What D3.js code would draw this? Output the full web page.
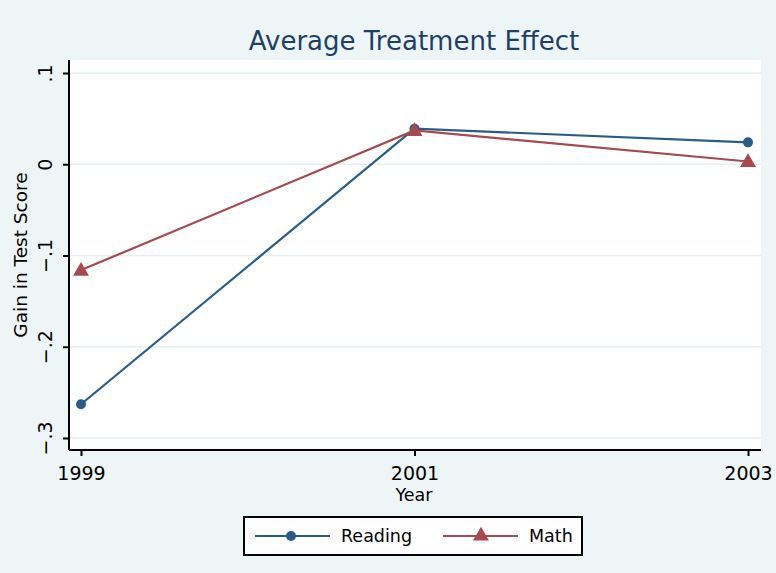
<!DOCTYPE html>
<html>
<head>
<meta charset="utf-8">
<script src="https://cdn.jsdelivr.net/npm/d3@7"></script>
<style>
  body { margin: 0; background: #eef5f7; }
  svg { display: block; font-family: "DejaVu Sans", sans-serif; }
</style>
</head>
<body>
<svg width="776" height="573"></svg>
<script>
var years = [1999, 2001, 2003];
var reading = [-0.263, 0.039, 0.024];
var math = [-0.116, 0.037, 0.003];
var yTicks = [-0.3, -0.2, -0.1, 0, 0.1];
var seriesNames = ["Reading", "Math"];

var svg = d3.select("svg"),
    margin = { top: 60, right: 15, bottom: 123, left: 69 },
    width = +svg.attr("width") - margin.left - margin.right,
    height = +svg.attr("height") - margin.top - margin.bottom;

var blue = "#285d89", red = "#a64a50";
var font = '"DejaVu Sans", sans-serif';

svg.append("rect").attr("width", 776).attr("height", 573).attr("fill", "#eef5f7");

var g = svg.append("g")
    .attr("transform", "translate(" + margin.left + "," + margin.top + ")");

g.append("rect").attr("width", width).attr("height", height).attr("fill", "#fff");

var x = d3.scaleLinear().domain([1999, 2003]).range([12, 679]);
var y = d3.scaleLinear().domain([-0.3, 0.1]).range([378, 13]);

// grid
g.selectAll(".grid").data(yTicks).enter().append("line")
    .attr("x1", 0).attr("x2", width)
    .attr("y1", function(d) { return y(d); })
    .attr("y2", function(d) { return y(d); })
    .attr("stroke", "#e6eff2").attr("stroke-width", 1.5);

// y axis
var yAxis = d3.axisLeft(y).tickValues(yTicks).tickSize(6)
    .tickFormat(function(d) { return d === 0 ? "0" : d3.format(".1f")(d).replace("0.", "."); });
var yg = g.append("g").call(yAxis).attr("font-family", font).attr("font-size", 19);
yg.select(".domain").attr("d", "M0,0V" + height).attr("stroke", "#000").attr("stroke-width", 2);
yg.selectAll(".tick line").attr("stroke", "#000").attr("stroke-width", 2);
yg.selectAll(".tick text")
    .style("font-size", "19px").attr("fill", "#000")
    .attr("text-anchor", "middle")
    .attr("transform", "translate(-24,0) rotate(-90)")
    .attr("x", 0).attr("dy", "0.35em");

// x axis
var xAxis = d3.axisBottom(x).tickValues(years).tickSize(6).tickFormat(d3.format("d"));
var xg = g.append("g").attr("transform", "translate(0," + height + ")").call(xAxis)
    .attr("font-family", font).attr("font-size", 19);
xg.select(".domain").attr("d", "M0,0H" + width).attr("stroke", "#000").attr("stroke-width", 2);
xg.selectAll(".tick line").attr("stroke", "#000").attr("stroke-width", 2);
xg.selectAll(".tick text").style("font-size", "19px").attr("fill", "#000").attr("y", 13).attr("dy", "0.88em");

// axis titles
svg.append("text").attr("x", 414).attr("y", 501).attr("text-anchor", "middle")
    .attr("font-size", 17.5).text("Year");
svg.append("text").attr("transform", "translate(27,255) rotate(-90)")
    .attr("text-anchor", "middle").attr("font-size", 18.5).text("Gain in Test Score");

// title
svg.append("text").attr("x", 414).attr("y", 50).attr("text-anchor", "middle")
    .attr("font-size", 26).attr("fill", "#1f3f6b").text("Average Treatment Effect");

var line = d3.line().x(function(d) { return x(d[0]); }).y(function(d) { return y(d[1]); });
var tri = d3.symbol().type(d3.symbolTriangle).size(110);

function series(vals, color, marker) {
    var pts = years.map(function(yr, i) { return [yr, vals[i]]; });
    g.append("path").datum(pts).attr("d", line)
        .attr("fill", "none").attr("stroke", color).attr("stroke-width", 2.2);
    if (marker === "circle") {
        g.selectAll(null).data(pts).enter().append("circle")
            .attr("cx", function(d) { return x(d[0]); })
            .attr("cy", function(d) { return y(d[1]); })
            .attr("r", 5).attr("fill", color);
    } else {
        g.selectAll(null).data(pts).enter().append("path")
            .attr("d", tri)
            .attr("transform", function(d) { return "translate(" + x(d[0]) + "," + (y(d[1]) + 1) + ")"; })
            .attr("fill", color);
    }
}
series(reading, blue, "circle");
series(math, red, "triangle");

// legend
var lg = svg.append("g").attr("transform", "translate(244,517)");
lg.append("rect").attr("width", 338).attr("height", 38)
    .attr("fill", "#fff").attr("stroke", "#000").attr("stroke-width", 2);
var items = [
    { name: seriesNames[0], color: blue, marker: "circle", x0: 11 },
    { name: seriesNames[1], color: red, marker: "triangle", x0: 199 }
];
items.forEach(function(it) {
    lg.append("line").attr("x1", it.x0).attr("x2", it.x0 + 75)
        .attr("y1", 19).attr("y2", 19).attr("stroke", it.color).attr("stroke-width", 2);
    if (it.marker === "circle") {
        lg.append("circle").attr("cx", it.x0 + 36).attr("cy", 19).attr("r", 5).attr("fill", it.color);
    } else {
        lg.append("path").attr("d", tri).attr("transform", "translate(" + (it.x0 + 38) + ",19)").attr("fill", it.color);
    }
    lg.append("text").attr("x", it.x0 + 86).attr("y", 25).attr("font-size", 17.5).text(it.name);
});
</script>
</body>
</html>
